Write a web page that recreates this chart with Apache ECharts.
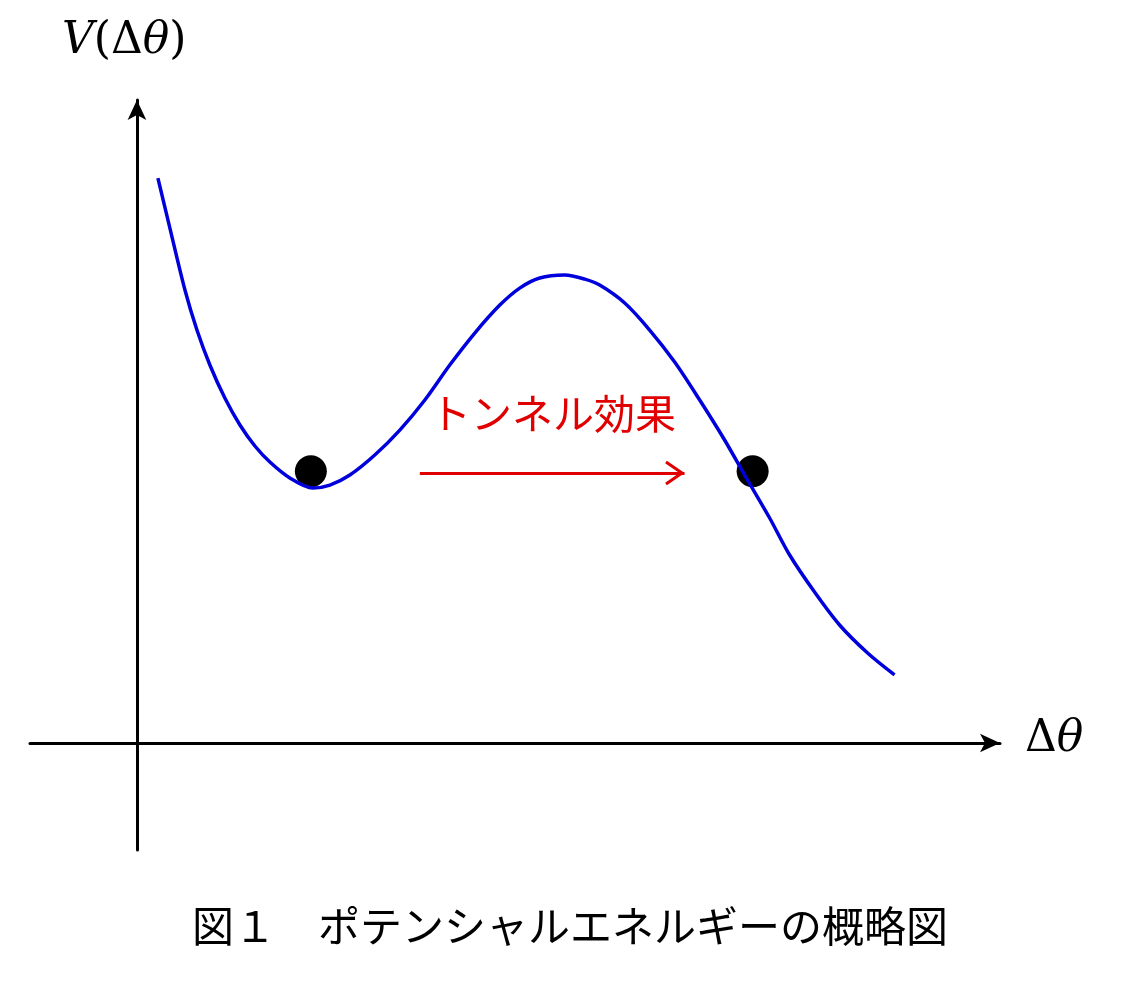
<!DOCTYPE html>
<html><head><meta charset="utf-8">
<script src="https://cdn.jsdelivr.net/npm/echarts@6/dist/echarts.min.js"></script>
<style>html,body{margin:0;background:#fff}#c{width:1140px;height:991px}</style>
</head><body><div id="c"></div>
<script>
// potential curve
var curveX = [0.196, 0.308, 0.449, 0.561, 0.682, 0.822, 0.963, 1.103, 1.243, 1.430, 1.645, 1.804, 1.991, 2.224, 2.458, 2.692, 2.925, 3.159, 3.393, 3.579, 3.766, 4.000, 4.187, 4.327, 4.561, 4.794, 5.028, 5.262, 5.495, 5.682, 5.916, 6.103, 6.336, 6.570, 6.832, 7.084];
var curveY = [5.280, 4.813, 4.234, 3.860, 3.533, 3.224, 2.972, 2.776, 2.626, 2.477, 2.383, 2.411, 2.505, 2.692, 2.925, 3.206, 3.533, 3.832, 4.093, 4.252, 4.346, 4.374, 4.336, 4.280, 4.112, 3.860, 3.561, 3.206, 2.832, 2.505, 2.103, 1.757, 1.411, 1.103, 0.841, 0.636];
var ballX = [1.626, 5.757];
var ballY = [2.54, 2.54];
var arrowX = [2.645, 5.12];
var arrowY = [2.52, 2.52];

var chart = echarts.init(document.getElementById('c'));
var serif = '"DejaVu Serif","Liberation Serif",serif';
var axisStyle = {
  show: true, onZero: true,
  symbol: ['none', 'arrow'], symbolSize: [14, 20],
  lineStyle: { color: '#000', width: 3 }
};
chart.setOption({
  animation: false,
  grid: { left: 30, right: 140, top: 100, bottom: 141 },
  xAxis: { type: 'value', min: -1, max: 8.07, axisLine: axisStyle,
    axisTick: { show: false }, axisLabel: { show: false }, splitLine: { show: false } },
  yAxis: { type: 'value', min: -1, max: 6.01, axisLine: axisStyle,
    axisTick: { show: false }, axisLabel: { show: false }, splitLine: { show: false } },
  series: [
    { type: 'line', smooth: 0.3, showSymbol: false,
      lineStyle: { color: '#0000dd', width: 3.5 },
      data: curveX.map(function (x, i) { return [x, curveY[i]]; }) },
    { type: 'line', showSymbol: false, symbol: 'none',
      lineStyle: { color: '#e00000', width: 3 },
      data: arrowX.map(function (x, i) { return [x, arrowY[i]]; }) },
    { type: 'scatter', symbolSize: 32, itemStyle: { color: '#000', opacity: 1 },
      data: ballX.map(function (x, i) { return [x, ballY[i]]; }) }
  ],
  graphic: [
    { type: 'text', left: 62, top: 20, style: {
      text: '{i|V}{n|(Δ}{i|θ}{n|)}',
      rich: { i: { font: 'italic 44px ' + serif, fill: '#000' }, n: { font: '44px ' + serif, fill: '#000' } } } },
    { type: 'text', left: 1025, top: 718, style: {
      text: '{n|Δ}{i|θ}',
      rich: { i: { font: 'italic 44px ' + serif, fill: '#000' }, n: { font: '44px ' + serif, fill: '#000' } } } },
    { type: 'text', left: 430, top: 393, style: { text: 'トンネル効果', font: '41px "Noto Sans CJK JP"', fill: '#e00000' } },
    { type: 'polyline', shape: { points: [[666, 462], [682, 473], [666, 484]] }, style: { stroke: '#e00000', lineWidth: 3, fill: null } },
    { type: 'text', left: 192, top: 905, style: { text: '図１　ポテンシャルエネルギーの概略図', font: '42px "Noto Sans CJK JP"', fill: '#000' } }
  ]
});
</script></body></html>
